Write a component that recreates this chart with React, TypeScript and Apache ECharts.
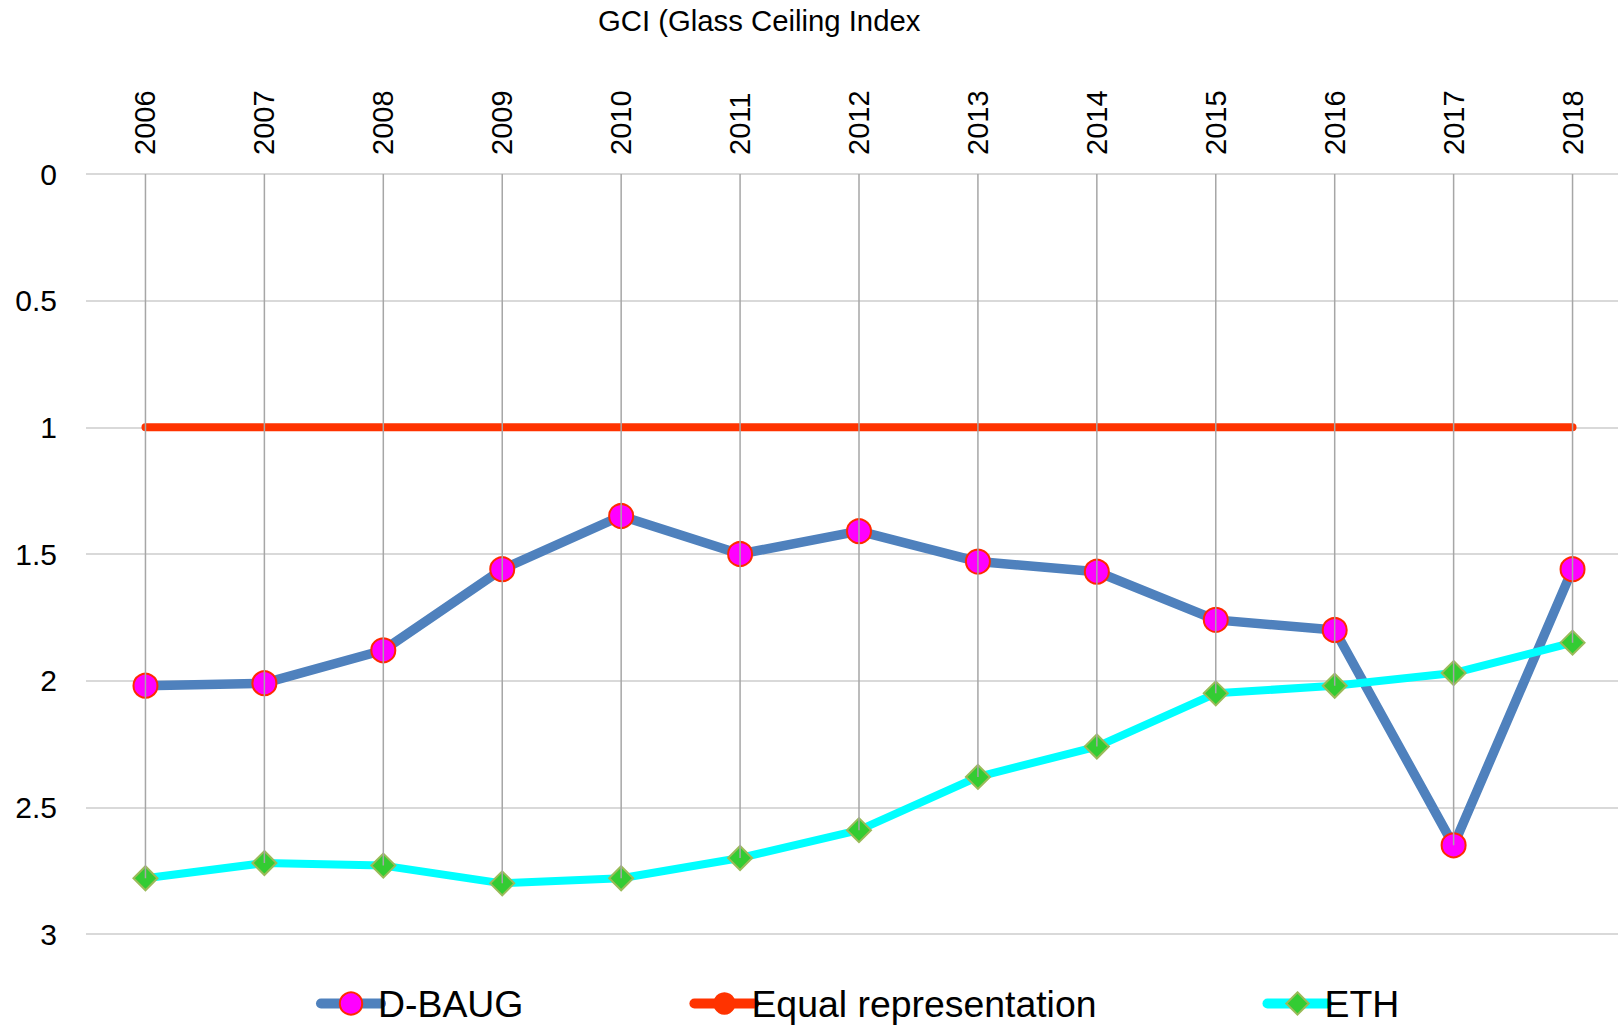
import React, { useEffect, useRef } from "react";
import * as echarts from "echarts";

const years = ["2006", "2007", "2008", "2009", "2010", "2011", "2012", "2013", "2014", "2015", "2016", "2017", "2018"];
const dBaug = [2.02, 2.01, 1.88, 1.56, 1.35, 1.5, 1.41, 1.53, 1.57, 1.76, 1.8, 2.65, 1.56];
const equalRep = [1, 1, 1, 1, 1, 1, 1, 1, 1, 1, 1, 1, 1];
const eth = [2.78, 2.72, 2.73, 2.8, 2.78, 2.7, 2.59, 2.38, 2.26, 2.05, 2.02, 1.97, 1.85];
const seriesNames = ["D-BAUG", "Equal representation", "ETH"];
const titleText = "GCI (Glass Ceiling Index";

const FONT = "Arial";

export default function App() {
  const ref = useRef<HTMLDivElement>(null);
  useEffect(() => {
    if (!ref.current) return;
    const chart = echarts.init(ref.current, undefined, { renderer: "svg" });
    const dropData = years.map((_, i) => [i, Math.max(dBaug[i], equalRep[i], eth[i])]);
    chart.setOption({
      animation: false,
      backgroundColor: "#ffffff",
      textStyle: { fontFamily: FONT },
      title: {
        text: titleText,
        left: 598,
        top: 6,
        padding: 0,
        textStyle: { fontSize: 29.3, fontWeight: "normal", color: "#000", fontFamily: FONT },
      },
      legend: {
        data: seriesNames,
        left: 316,
        top: 985,
        padding: 0,
        itemGap: 166,
        itemWidth: 60,
        itemHeight: 28,
        lineStyle: { width: 10, cap: "round" },
        textStyle: { fontSize: 37.4, color: "#000", fontFamily: FONT, padding: [0, 0, 0, -8] },
      },
      grid: { left: 86, right: 0, top: 174, bottom: 91, containLabel: false },
      xAxis: {
        type: "category",
        data: years,
        position: "top",
        boundaryGap: true,
        axisLine: { show: false },
        axisTick: { show: false },
        splitLine: { show: false },
        axisLabel: { rotate: 90, margin: 19, fontSize: 29, color: "#000", fontFamily: FONT },
      },
      yAxis: {
        type: "value",
        inverse: true,
        min: 0,
        max: 3,
        interval: 0.5,
        axisLine: { show: false },
        axisTick: { show: false },
        splitLine: { show: true, lineStyle: { color: "#D9D9D9", width: 2 } },
        axisLabel: { margin: 29, fontSize: 30, color: "#000", fontFamily: FONT },
      },
      series: [
        {
          name: seriesNames[0],
          type: "line",
          data: dBaug,
          symbol: "circle",
          symbolSize: 24,
          lineStyle: { color: "#4F81BD", width: 9.5, cap: "round", join: "round" },
          itemStyle: { color: "#FF00FF", borderColor: "#FF2A00", borderWidth: 2 },
          z: 3,
        },
        {
          name: seriesNames[1],
          type: "line",
          data: equalRep,
          symbol: "none",
          showSymbol: false,
          lineStyle: { color: "#FF3300", width: 8, cap: "round" },
          itemStyle: { color: "#FF3300" },
          z: 2,
        },
        {
          name: seriesNames[2],
          type: "line",
          data: eth,
          symbol: "diamond",
          symbolSize: 24,
          lineStyle: { color: "#00FFFF", width: 8, cap: "round", join: "round" },
          itemStyle: { color: "#33CC33", borderColor: "#9BBB59", borderWidth: 2 },
          z: 4,
        },
        {
          name: "drop",
          type: "custom",
          silent: true,
          z: 10,
          data: dropData,
          renderItem: (params: any, api: any) => {
            const i = api.value(0);
            const v = api.value(1);
            const p0 = api.coord([i, 0]);
            const p1 = api.coord([i, v]);
            return {
              type: "line",
              shape: { x1: p0[0], y1: p0[1], x2: p1[0], y2: p1[1] },
              style: { stroke: "#A6A6A6", lineWidth: 1.5 },
            };
          },
        },
      ],
    });
    return () => chart.dispose();
  }, []);
  return (
    <div
      style={{ position: "fixed", left: 0, top: 0, width: 1618, height: 1025, overflow: "hidden", background: "#fff" }}
    >
      <div ref={ref} style={{ width: 1632, height: 1025 }} />
    </div>
  );
}
